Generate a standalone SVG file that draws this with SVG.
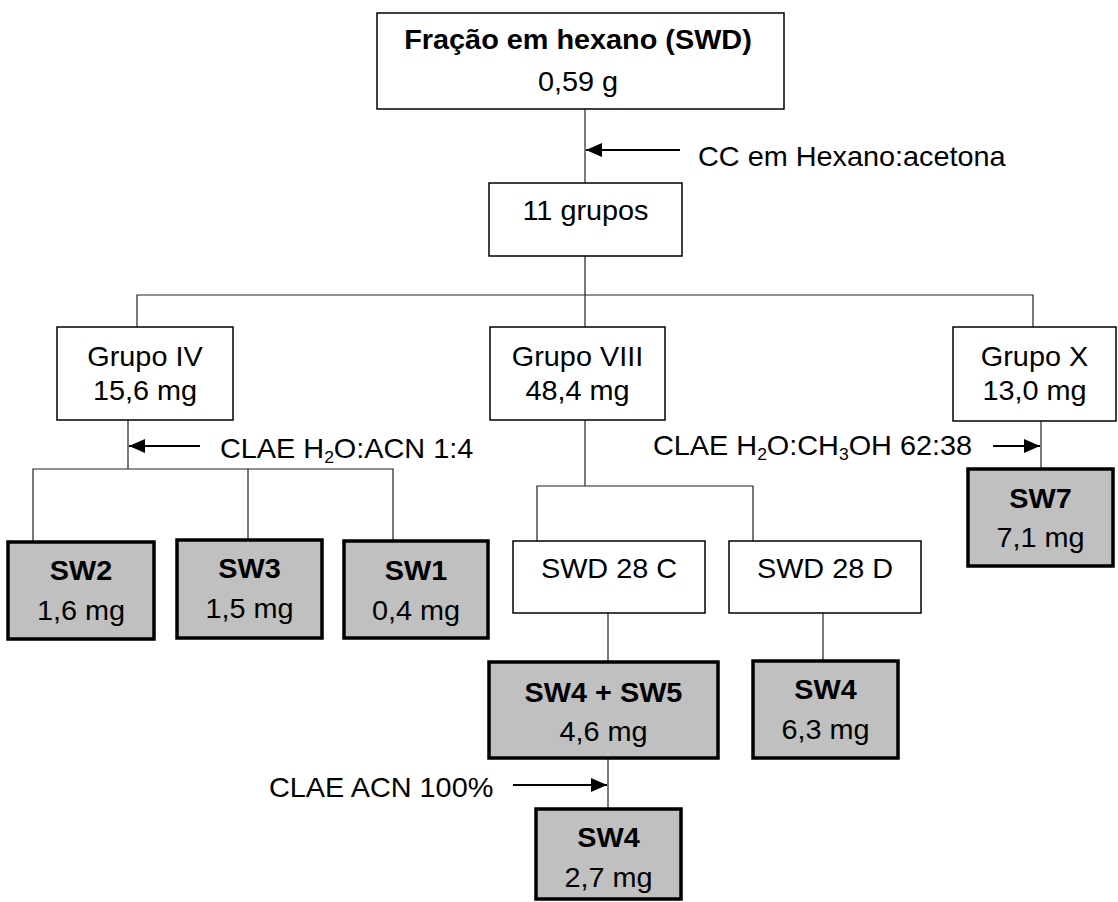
<svg xmlns="http://www.w3.org/2000/svg" width="1118" height="902" viewBox="0 0 1118 902">
<style>
.t{font-family:"Liberation Sans",Arial,sans-serif;font-size:28px;fill:#000}
.c{text-anchor:middle}
.b{font-weight:bold}
.box{fill:#fff;stroke:#000;stroke-width:1.5}
.gbox{fill:#c0c0c0;stroke:#000;stroke-width:3.5}
.ln{stroke:#222;stroke-width:1.2;fill:none}
.ar{stroke:#000;stroke-width:2;fill:none;marker-end:url(#ah)}
.sub{font-size:17px}
</style>
<defs>
<marker id="ah" viewBox="0 0 16 14" refX="16" refY="7" markerWidth="16" markerHeight="14" markerUnits="userSpaceOnUse" orient="auto">
<path d="M0,0 L16,7 L0,14 Z" fill="#000"/>
</marker>
</defs>
<rect width="1118" height="902" fill="#fff"/>
<g id="connectors">
<line class="ln" x1="585" y1="109" x2="585" y2="183"/>
<line class="ln" x1="585" y1="256" x2="585" y2="295"/>
<polyline class="ln" points="137,327 137,295 1033,295 1033,327"/>
<line class="ln" x1="585" y1="295" x2="585" y2="327"/>
<line class="ln" x1="128" y1="420" x2="128" y2="469"/>
<polyline class="ln" points="33,541 33,469 393,469 393,541"/>
<line class="ln" x1="248" y1="469" x2="248" y2="540"/>
<line class="ln" x1="585" y1="420" x2="585" y2="486"/>
<polyline class="ln" points="537,541 537,486 753,486 753,541"/>
<line class="ln" x1="608" y1="613" x2="608" y2="662"/>
<line class="ln" x1="823" y1="613" x2="823" y2="661"/>
<line class="ln" x1="608" y1="758" x2="608" y2="809"/>
<line class="ln" x1="1041" y1="421" x2="1041" y2="469"/>
<line class="ar" x1="680" y1="150" x2="586" y2="150"/>
<line class="ar" x1="200" y1="446" x2="129" y2="446"/>
<line class="ar" x1="993" y1="446" x2="1040" y2="446"/>
<line class="ar" x1="513" y1="785" x2="607" y2="785"/>
</g>
<g id="label-cc"><text class="t" transform="translate(698,166) scale(1.03,1)">CC em Hexano:acetona</text></g>
<g id="label-clae1"><text class="t" transform="translate(220,458) scale(1.03,1)">CLAE H<tspan class="sub" dy="5">2</tspan><tspan dy="-5">O:ACN 1:4</tspan></text></g>
<g id="label-clae2"><text class="t" transform="translate(653,455) scale(1.03,1)">CLAE H<tspan class="sub" dy="5">2</tspan><tspan dy="-5">O:CH</tspan><tspan class="sub" dy="5">3</tspan><tspan dy="-5">OH 62:38</tspan></text></g>
<g id="label-clae3"><text class="t" transform="translate(269,797) scale(1.03,1)">CLAE ACN 100%</text></g>
<g id="n-top">
<rect class="box" x="377" y="13" width="407" height="96"/>
<text class="t c b" transform="translate(578,49) scale(1.03,1)">Fração em hexano (SWD)</text>
<text class="t c" transform="translate(578,91) scale(1.03,1)">0,59 g</text>
</g>
<g id="n-11">
<rect class="box" x="489" y="183" width="193" height="73"/>
<text class="t c" transform="translate(585.5,220) scale(1.03,1)">11 grupos</text>
</g>
<g id="n-g4">
<rect class="box" x="57" y="327" width="176" height="93"/>
<text class="t c" transform="translate(145,366) scale(1.03,1)">Grupo IV</text>
<text class="t c" transform="translate(145,400) scale(1.03,1)">15,6 mg</text>
</g>
<g id="n-g8">
<rect class="box" x="490" y="327" width="175" height="93"/>
<text class="t c" transform="translate(577.5,366) scale(1.03,1)">Grupo VIII</text>
<text class="t c" transform="translate(577.5,400) scale(1.03,1)">48,4 mg</text>
</g>
<g id="n-g10">
<rect class="box" x="953" y="327" width="163" height="94"/>
<text class="t c" transform="translate(1034.5,366) scale(1.03,1)">Grupo X</text>
<text class="t c" transform="translate(1034.5,400) scale(1.03,1)">13,0 mg</text>
</g>
<g id="n-sw2">
<rect class="gbox" x="8" y="542" width="146" height="97"/>
<text class="t c b" transform="translate(81,580) scale(1.03,1)">SW2</text>
<text class="t c" transform="translate(81,620) scale(1.03,1)">1,6 mg</text>
</g>
<g id="n-sw3">
<rect class="gbox" x="177" y="540" width="145" height="98"/>
<text class="t c b" transform="translate(249.5,578) scale(1.03,1)">SW3</text>
<text class="t c" transform="translate(249.5,618) scale(1.03,1)">1,5 mg</text>
</g>
<g id="n-sw1">
<rect class="gbox" x="344" y="541" width="144" height="97"/>
<text class="t c b" transform="translate(416,580) scale(1.03,1)">SW1</text>
<text class="t c" transform="translate(416,620) scale(1.03,1)">0,4 mg</text>
</g>
<g id="n-28c">
<rect class="box" x="513" y="541" width="192" height="72"/>
<text class="t c" transform="translate(609,578) scale(1.03,1)">SWD 28 C</text>
</g>
<g id="n-28d">
<rect class="box" x="729" y="541" width="192" height="72"/>
<text class="t c" transform="translate(825,578) scale(1.03,1)">SWD 28 D</text>
</g>
<g id="n-sw7">
<rect class="gbox" x="968" y="469" width="145" height="97"/>
<text class="t c b" transform="translate(1040.5,508) scale(1.03,1)">SW7</text>
<text class="t c" transform="translate(1040.5,547) scale(1.03,1)">7,1 mg</text>
</g>
<g id="n-sw45">
<rect class="gbox" x="489" y="662" width="229" height="96"/>
<text class="t c b" transform="translate(603.5,702) scale(1.03,1)">SW4 + SW5</text>
<text class="t c" transform="translate(603.5,741) scale(1.03,1)">4,6 mg</text>
</g>
<g id="n-sw4d">
<rect class="gbox" x="753" y="661" width="145" height="97"/>
<text class="t c b" transform="translate(825.5,699) scale(1.03,1)">SW4</text>
<text class="t c" transform="translate(825.5,739) scale(1.03,1)">6,3 mg</text>
</g>
<g id="n-sw4b">
<rect class="gbox" x="536" y="809" width="145" height="90"/>
<text class="t c b" transform="translate(608.5,847) scale(1.03,1)">SW4</text>
<text class="t c" transform="translate(608.5,887) scale(1.03,1)">2,7 mg</text>
</g>
</svg>
